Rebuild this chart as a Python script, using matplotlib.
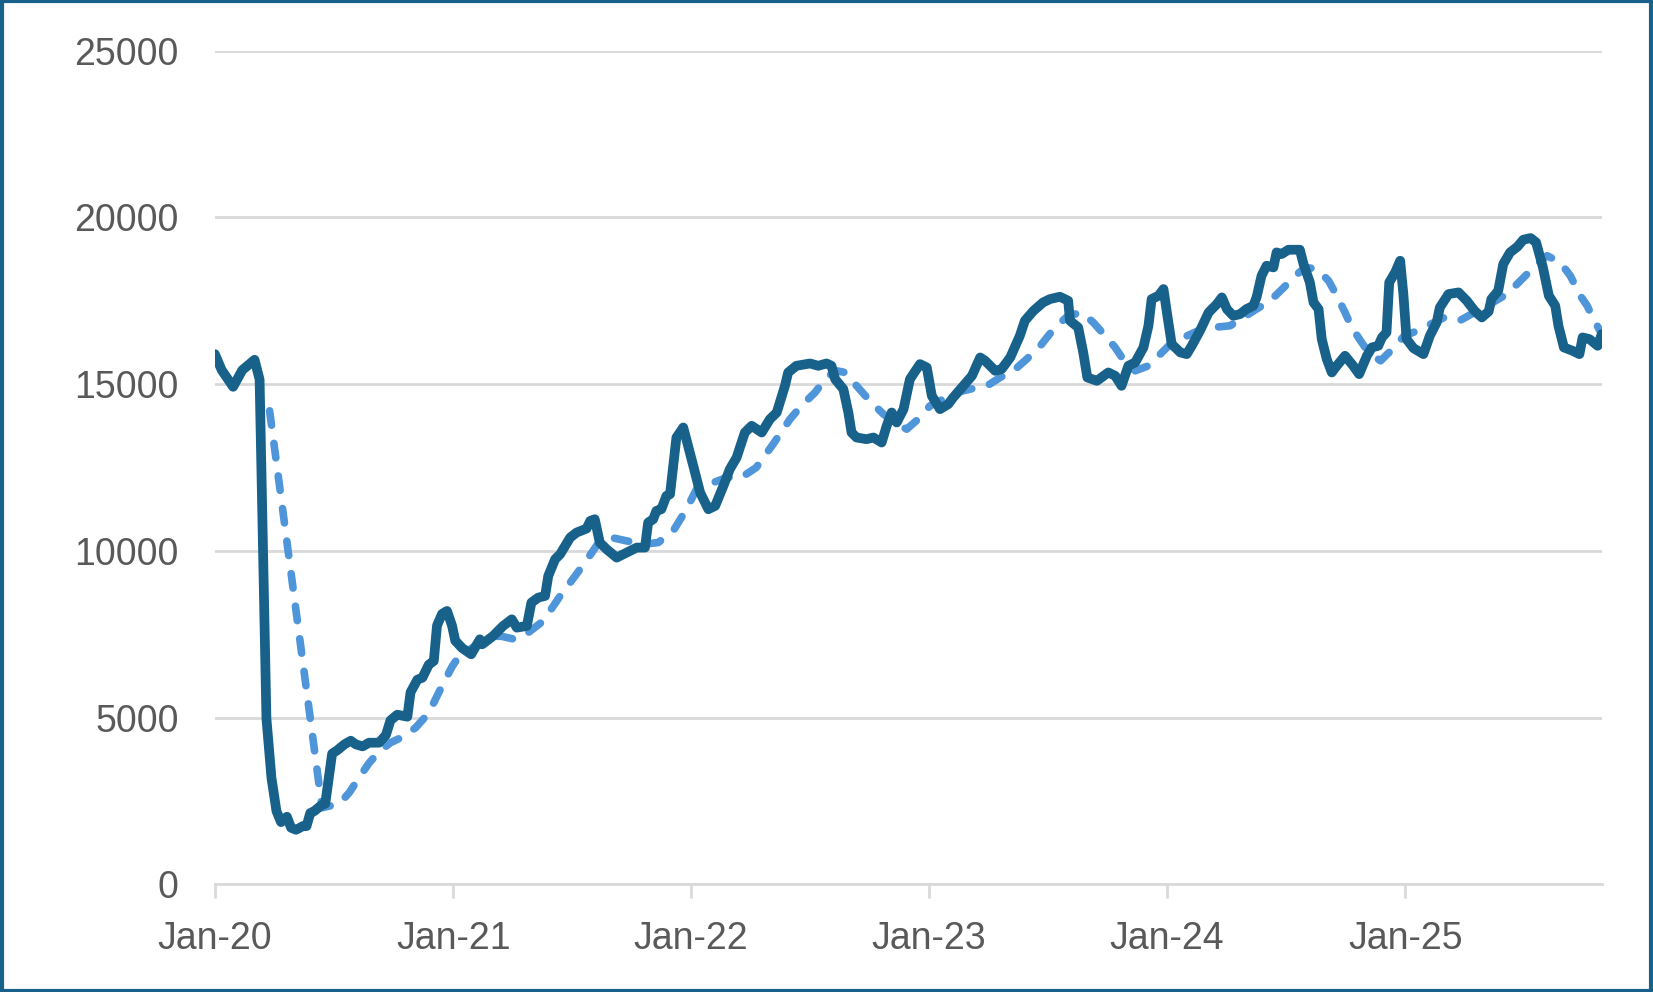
import numpy as np
import pandas as pd
import matplotlib
matplotlib.use("Agg")
import matplotlib.pyplot as plt
import matplotlib.dates as mdates
from matplotlib.patches import Rectangle

start = pd.Timestamp("2020-01-03")

wk_weekly = [0, 1.5, 4, 6, 8.7, 9.8, 11.3, 12.4, 13.5, 14.5, 15.8, 16.7, 17.8, 19.3, 20.1, 20.9,
             21.8, 23.3, 24.2, 25.7, 26.9, 28.4, 29.8, 30.9, 32.4, 33.8, 36, 37.5, 38.5, 40,
             42.2, 42.9, 44.4, 45.5, 46.9, 48, 48.7, 49.8, 50.9, 52, 52.7, 54.2, 56.2, 58.1,
             58.6, 61, 63.2, 65.1, 66.2, 68.4, 69.4, 70.9, 72.4, 73.1, 74.6, 75.7, 77.9, 79.3,
             81.5, 82.3, 83.3, 84.4, 85.9, 88.1, 91, 92.5, 94.3, 95, 96.1, 96.8, 97.9, 99,
             99.8, 101.2, 102.7, 104.9, 106.4, 108.2, 109.7, 111.5, 112.9, 114.4, 116.2, 117.7,
             119.9, 121.7, 123.2, 125, 125.7, 127.5, 130.5, 132.3, 134.1, 135.2, 136, 137.8,
             138.9, 139.6, 140.7, 142.9, 144.4, 146.2, 147.3, 148.4, 149.5, 151, 152.4, 154.6,
             156.1, 157.2, 159, 160.8, 161.9, 164.1, 166, 167.8, 168.9, 171.1, 172.5, 174.4,
             176.5, 177.6, 179.5, 181.6, 183.1, 185.3, 187.1, 187.5, 189.3, 190.4, 191.3, 193.4,
             195.9, 197.4, 198.8, 200.3, 201.8, 203.6, 204.7, 205.4, 206.9, 208, 208.8, 209.8,
             211.7, 213.1, 214.2, 216, 217.9, 219.7, 220.8, 221.9, 223.3, 224.8, 226.2, 227.7,
             228.4, 229.5, 230.6, 232.1, 232.8, 233.9, 235.4, 237.9, 238.7, 240.1, 240.9, 242,
             242.7, 243.8, 244.9, 246, 247.8, 249.6, 250.9, 252.6, 253.7, 255.1, 255.9, 256.9,
             257.5, 258.8, 259.9, 260.6, 261.3, 262.8, 265, 266.4, 267.9, 268.6, 270.5, 272.7,
             274.5, 276.2, 277.8, 279.3, 279.9, 281.4, 282.5, 284, 285.6, 286.9, 288.5, 289.7,
             291.2, 292.5, 293.9, 294.6, 295.8, 297.7, 299.2, 299.9, 301.4, 303.2, 304.1]
weekly = [15900, 15420, 14920, 15420, 15730, 15140, 4980, 3200, 2200, 1870, 2030, 1700, 1640,
          1750, 1750, 2140, 2200, 2370, 2420, 3920, 4030, 4200, 4310, 4200, 4140, 4250, 4250,
          4480, 4920, 5090, 5030, 5760, 6140, 6200, 6590, 6700, 7760, 8110, 8200, 7760, 7310,
          7090, 6900, 7350, 7200, 7450, 7750, 7950, 7700, 7750, 8450, 8600, 8650, 9250, 9750,
          9900, 10400, 10550, 10670, 10900, 10950, 10250, 10050, 9800, 10000, 10100, 10100,
          10850, 10950, 11200, 11250, 11650, 11700, 13400, 13700, 12550, 11750, 11250, 11350,
          11950, 12450, 12800, 13550, 13750, 13550, 13950, 14150, 14950, 15350, 15550, 15620,
          15550, 15620, 15550, 15150, 14850, 14150, 13550, 13400, 13350, 13400, 13250, 13750,
          14150, 13850, 14250, 15150, 15600, 15500, 14650, 14250, 14400, 14600, 14950, 15250,
          15800, 15700, 15400, 15450, 15800, 16450, 16900, 17200, 17450, 17550, 17620, 17500,
          16900, 16700, 15950, 15200, 15100, 15350, 15250, 14950, 15550, 15650, 16100, 16750,
          17550, 17650, 17850, 17100, 16200, 15950, 15900, 16150, 16600, 17150, 17400, 17600,
          17250, 17050, 17100, 17250, 17350, 17600, 18250, 18550, 18500, 18950, 18900, 19030,
          19030, 18600, 18050, 17450, 17250, 16350, 15750, 15350, 15550, 15850, 15550, 15300,
          15850, 16100, 16150, 16400, 16550, 18050, 18350, 18700, 17700, 16350, 16080, 15900,
          16450, 16850, 17300, 17700, 17750, 17500, 17200, 17000, 17180, 17550, 17800, 18600,
          18950, 19120, 19330, 19380, 19250, 18500, 17650, 17350, 16750, 16100, 16000, 15900,
          16400, 16350, 16150, 16500]

wk_avg = [12, 23.5, 27.3, 29.5, 31.6, 33.8, 36, 38.5, 41.1, 44, 46.9, 49.1, 52, 54.2, 55.9,
          58.8, 62.5, 65.8, 68.7, 72, 75.7, 79, 81.9, 84.4, 87, 90.3, 93.9, 97.2, 100.5, 103.4,
          105.6, 109.3, 112.2, 115.4, 118.7, 122.4, 126.1, 128.6, 131.6, 134.1, 136.3, 138.2,
          140.7, 143.6, 146.6, 149.1, 151.7, 154.2, 156.8, 159.7, 162.6, 165.6, 169.3, 172.2,
          175.1, 178, 181, 184.2, 187.1, 190.1, 192.6, 195.2, 197.4, 199.6, 201.8, 204.7, 207.3,
          209.5, 212.4, 215.6, 218.9, 222.6, 225.5, 228.4, 231.4, 234.4, 236.9, 239.1, 241.7,
          244.2, 246, 247.8, 249.3, 251.2, 253, 255.6, 258.2, 260.8, 263.7, 266.6, 269.6, 272.9,
          276.2, 279.6, 283.3, 287, 289.9, 292.1, 295, 297.2, 299.4, 300.9, 302.3, 304.1]
avg = [14200, 2300, 2420, 2760, 3200, 3640, 3980, 4250, 4420, 4700, 5140, 5760, 6530, 6980,
       7050, 7300, 7450, 7350, 7550, 7900, 8650, 9250, 9800, 10300, 10400, 10300, 10200, 10250,
       10600, 11250, 11850, 12050, 12200, 12200, 12500, 13200, 13950, 14350, 14750, 15200,
       15400, 15350, 14950, 14500, 14100, 13850, 13650, 13950, 14350, 14550, 14750, 14850,
       14950, 15200, 15400, 15750, 16150, 16700, 17050, 17150, 16850, 16450, 16100, 15650,
       15400, 15550, 15900, 16200, 16400, 16600, 16700, 16750, 17000, 17250, 17500, 17900,
       18250, 18500, 18450, 18100, 17650, 17150, 16700, 16300, 15950, 15700, 16050, 16450,
       16600, 16800, 17000, 16900, 17150, 17400, 17700, 18200, 18600, 18850, 18650, 18250,
       17650, 17350, 16950, 16500]

yticks = [0, 5000, 10000, 15000, 20000, 25000]


def to_dates(weeks):
    return start + pd.to_timedelta(np.array(weeks) * 7, unit="D")


fig = plt.figure(figsize=(16.53, 9.92), dpi=100)
ax = fig.add_axes([0.130, 0.1084, 0.839, 0.8406])

ax.plot(to_dates(wk_weekly), weekly, color="#17618A", lw=7, solid_joinstyle="round",
        solid_capstyle="round", zorder=3)
ax.plot(to_dates(wk_avg), avg, color="#4E95D9", lw=5.5, linestyle=(0, (1.9, 2.4)),
        dash_capstyle="round", zorder=2)

ax.set_ylim(0, 25000)
ax.set_yticks(yticks)
ax.set_xlim(to_dates([0])[0], to_dates([304.1])[0])
ax.set_xticks([start + pd.DateOffset(years=k) for k in range(6)])
ax.xaxis.set_major_formatter(mdates.DateFormatter("%b-%y"))

ax.grid(axis="y", color="#D9D9D9", lw=2)
ax.set_axisbelow(True)
for s in ["top", "right", "left"]:
    ax.spines[s].set_visible(False)
ax.spines["bottom"].set_color("#D9D9D9")
ax.spines["bottom"].set_linewidth(2)

ax.tick_params(axis="y", length=0, pad=26, labelsize=27, labelcolor="#595959")
ax.tick_params(axis="x", length=10, width=2, color="#D9D9D9", pad=16, labelsize=27,
               labelcolor="#595959")
for lab in ax.get_yticklabels():
    lab.set_fontfamily(["Liberation Sans", "DejaVu Sans"])
for lab in ax.get_xticklabels():
    lab.set_fontfamily(["Liberation Sans Narrow", "Liberation Sans", "DejaVu Sans"])

# frame around the whole picture
fig.patches.append(Rectangle((0.001, 0.0015), 0.998, 0.997, transform=fig.transFigure,
                             fill=False, edgecolor="#17618A", lw=3))

fig.savefig("out.png", dpi=100)
